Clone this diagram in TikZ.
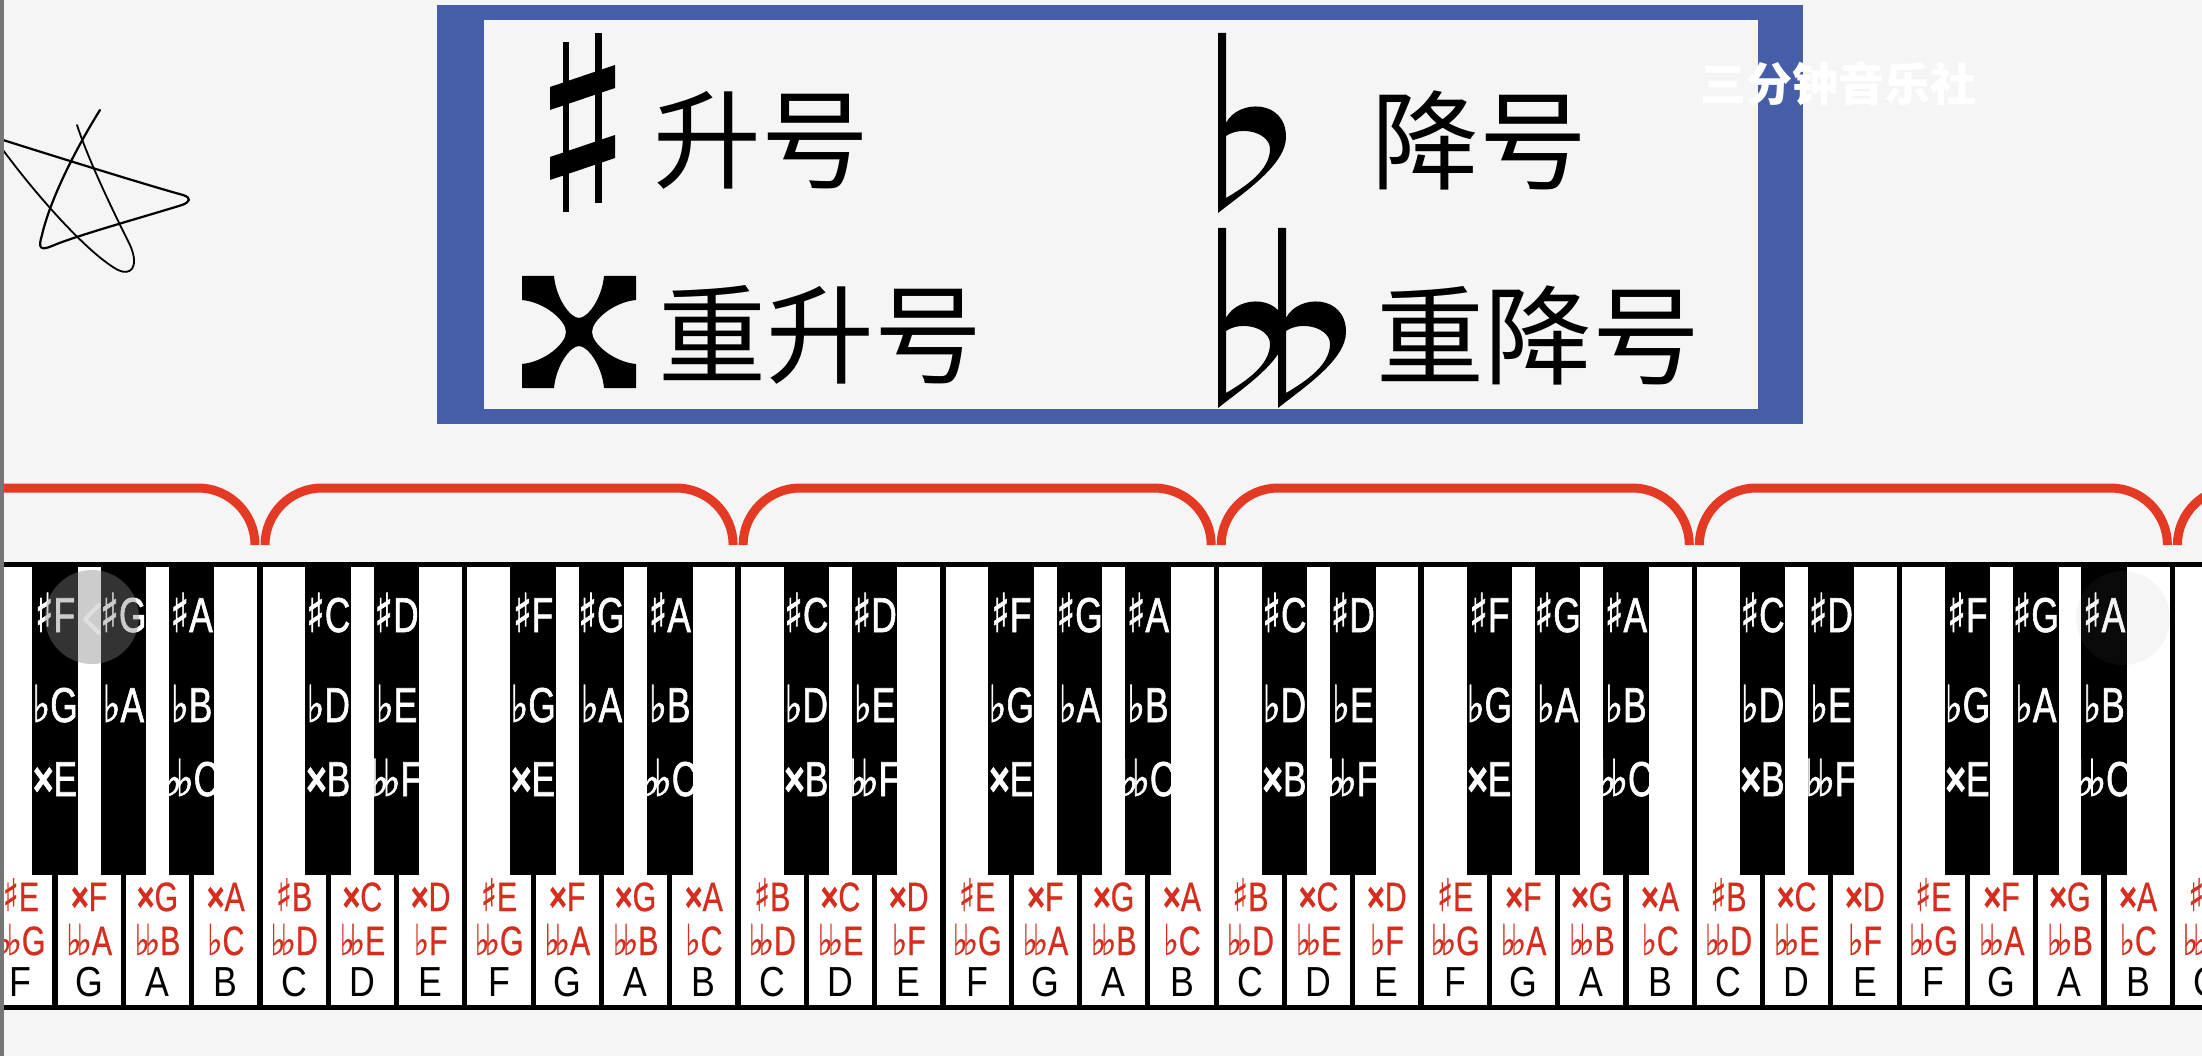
\documentclass[tikz,border=0pt]{standalone}
\usepackage{fontspec}
\setmainfont{Liberation Sans}
\newfontfamily\cjk{Noto Sans CJK SC}
\newfontfamily\kf[FakeStretch=0.74,FakeBold=0.6]{Liberation Sans}
\newfontfamily\kfw[FakeStretch=0.72,FakeBold=1.2]{Liberation Sans}
\newfontfamily\kfl[FakeStretch=0.85]{Liberation Sans}
\newfontfamily\symf[FakeStretch=0.74,FakeBold=0.6]{DejaVu Sans}
\newfontfamily\symfw[FakeStretch=0.72,FakeBold=1.2]{DejaVu Sans}
\let\cursym\symf
\definecolor{bg}{RGB}{245,245,245}
\definecolor{frameblue}{RGB}{70,93,168}
\definecolor{bracered}{RGB}{228,58,36}
\definecolor{labelred}{RGB}{214,46,30}
\definecolor{bordergray}{RGB}{118,118,118}
\newcommand\mysh{{\cursym\scalebox{1.1}[1.1]{♯}}}
\newcommand\myfl{{\cursym\scalebox{1.08}[1.04]{♭}}}
\newcommand\mydfl{{\cursym\scalebox{1.08}[1.04]{♭\kern-0.12em♭}}}
\newcommand\mydsh{{\bfseries ×}}
\tikzset{
  flatglyph/.pic={
    \fill[even odd rule] (0,0) -- (8,0) -- (8,90) .. controls (20,66) and (68,66) .. (68,104)
      .. controls (68,132) and (25,160) .. (0,180) -- cycle
      (8,103) .. controls (24,92) and (53,100) .. (52,117) .. controls (51,137) and (30,152) .. (8,165) -- cycle;
  }
}
\begin{document}
\begin{tikzpicture}[x=1pt,y=-1pt,
  bklab/.style={text=white,font={\kfw\let\cursym\symfw\fontsize{49}{49}\selectfont},inner sep=0,anchor=base},
  redlab/.style={text=labelred,font=\kf\fontsize{41}{41}\selectfont,inner sep=0,anchor=base},
  letlab/.style={text=black,font=\kfl\fontsize{42}{42}\selectfont,inner sep=0,anchor=base},
  cjklab/.style={font=\cjk\fontsize{108}{108}\selectfont,inner sep=0},
  brace/.style={draw=bracered,line width=9pt},
  scribble/.style={draw=black,line width=2.2pt,line cap=round,line join=round}
]
\useasboundingbox (0,0) rectangle (2202,1056);
\fill[bg] (0,0) rectangle (2202,1056);
\begin{scope}
\clip (0,0) rectangle (2202,1056);

% ---- legend box ----
\fill[frameblue] (437,5) rectangle (1803,424);
\fill[bg] (484,20) rectangle (1758,409);
% sharp
\fill (563,42) rectangle (569,212);
\fill (595,33) rectangle (602,203);
\fill (550,87) -- (615,65) -- (615,88) -- (550,110) -- cycle;
\fill (550,157) -- (615,135) -- (615,158) -- (550,180) -- cycle;
% flat and double flat
\pic at (1218,33) {flatglyph};
\pic at (1218,228) {flatglyph};
\pic at (1278,228) {flatglyph};
% double sharp
\begin{scope}[shift={(522,276)}]
\fill (0,0) -- (32,0) .. controls (34,22) and (48,42) .. (57,42) .. controls (66,42) and (80,22) .. (82,0)
  -- (114,0) -- (114,24) .. controls (92,26) and (70,44) .. (70,56) .. controls (70,68) and (92,86) .. (114,88)
  -- (114,112) -- (82,112) .. controls (80,90) and (66,70) .. (57,70) .. controls (48,70) and (34,90) .. (32,112)
  -- (0,112) -- (0,88) .. controls (22,86) and (44,68) .. (44,56) .. controls (44,44) and (22,26) .. (0,24) -- cycle;
\end{scope}
\node[cjklab] (sharpname) at (761,140) {升号};
\node[cjklab] (flatname) at (1479,140) {降号};
\node[cjklab] (dsharpname) at (820,335) {重升号};
\node[cjklab] (dflatname) at (1538,335) {重降号};
% watermark
\node[text=white,font=\cjk\bfseries\fontsize{46}{46}\selectfont,inner sep=0] (wm) at (1838,84) {三分钟音乐社};

% ---- braces ----
\foreach \j in {-1,...,4}{
  \pgfmathsetmacro\ca{260+\j*478.1}
  \pgfmathsetmacro\cb{\ca+478.1}
  \draw[brace] (\ca+5,545) arc[start angle=180,end angle=270,radius=57]
     -- (\cb-62,488) arc[start angle=270,end angle=360,radius=57];
}

% ---- keyboard ----
\fill[white] (0,567) rectangle (2202,1005);
\fill[black] (0,562) rectangle (2202,567);
\fill[black] (0,1005) rectangle (2202,1010);
\foreach \k in {0,...,33}{
  \pgfmathsetmacro\sx{-13.3+\k*68.3}
  \fill[black] (\sx-2.6,562) rectangle (\sx+2.6,1010);
}
\foreach \n in {0,...,4}{
  \foreach \j/\la/\lb/\lc in {1/{\mysh F}/{\myfl G}/{\mydsh E},2/{\mysh G}/{\myfl A}/{},3/{\mysh A}/{\myfl B}/{\mydfl C},5/{\mysh C}/{\myfl D}/{\mydsh B},6/{\mysh D}/{\myfl E}/{\mydfl F}}{
    \pgfmathsetmacro\kx{-13.3+(7*\n+\j)*68.3}
    \ifdim\kx pt<2200pt
    \fill[black] (\kx-22.8,567) rectangle (\kx+22.8,875);
    \node[bklab] (bk\n\j a) at (\kx,632) {\la};
    \node[bklab] (bk\n\j b) at (\kx,722) {\lb};
    \node[bklab] (bk\n\j c) at (\kx,796) {\lc};
    \fi
  }
}
\foreach \n in {0,...,4}{
  \foreach \j/\la/\lb/\lc in {0/{\mysh E}/{\mydfl G}/F,1/{\mydsh F}/{\mydfl A}/G,2/{\mydsh G}/{\mydfl B}/A,3/{\mydsh A}/{\myfl C}/B,4/{\mysh B}/{\mydfl D}/C,5/{\mydsh C}/{\mydfl E}/D,6/{\mydsh D}/{\myfl F}/E}{
    \pgfmathsetmacro\kx{-13.3+(7*\n+\j+0.5)*68.3}
    \ifdim\kx pt<2230pt
    \node[redlab] (wk\n\j a) at (\kx,911) {\la};
    \node[redlab] (wk\n\j b) at (\kx,955) {\lb};
    \node[letlab] (wk\n\j c) at (\kx,996) {\lc};
    \fi
  }
}

% ---- video overlay buttons ----
\fill[gray,opacity=0.4] (92,617) circle[radius=47];
\draw[white!75!gray,line width=4pt,line cap=round,line join=round] (99,605) -- (85,619) -- (99,633);
\fill[gray,opacity=0.08] (2123,618) circle[radius=47];

% ---- scribble ----
\draw[scribble] (3,140) .. controls (60,158) and (150,186) .. (183,195)
  .. controls (192,198) and (190,202) .. (182,205)
  .. controls (140,218) and (75,236) .. (52,246)
  .. controls (40,251) and (38,248) .. (42,235)
  .. controls (50,200) and (75,150) .. (100,110);
\draw[scribble,line width=1.8pt] (77,125) .. controls (90,165) and (120,225) .. (130,245)
  .. controls (140,268) and (130,276) .. (118,270)
  .. controls (90,255) and (40,200) .. (3,150);

% ---- screen border ----
\fill[bordergray] (0,0) rectangle (3.5,1056);
\end{scope}
\end{tikzpicture}
\end{document}
